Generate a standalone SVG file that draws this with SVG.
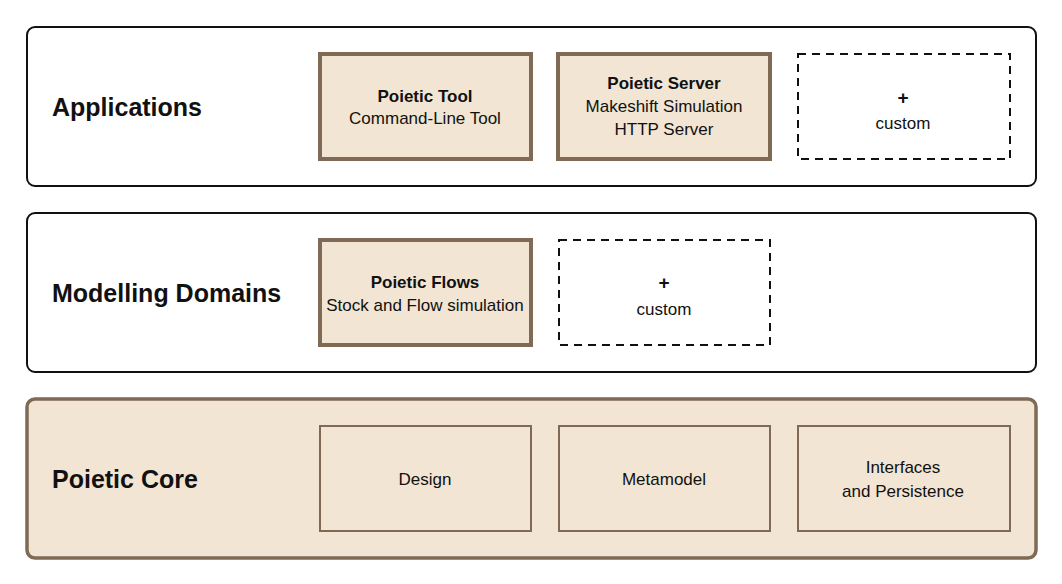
<svg xmlns="http://www.w3.org/2000/svg" width="1062" height="584" viewBox="0 0 1062 584">
<style>
text{font-family:"Liberation Sans",Arial,sans-serif;fill:#111;text-anchor:middle}
.h{font-size:25px;font-weight:bold;text-anchor:start}
.t{font-size:17px}
.b{font-weight:bold}
.p{font-size:19px;font-weight:bold}
.layer{fill:#fff;stroke:#111;stroke-width:2}
.core{fill:#f2e5d3;stroke:#7f6a55;stroke-width:3.5}
.node{fill:#f2e5d3;stroke:#7f6a55;stroke-width:4}
.sub{fill:#f2e5d3;stroke:#7f6a55;stroke-width:2}
.dash{fill:#fff;stroke:#111;stroke-width:2;stroke-dasharray:8 6}
</style>
<rect width="1062" height="584" fill="#fff"/>
<g id="applications">
<rect class="layer" x="27" y="27" width="1009" height="159" rx="8"/>
<text class="h" x="52" y="116">Applications</text>
</g>
<g id="poietic-tool">
<rect class="node" x="320" y="54" width="211" height="105"/>
<text class="t b" x="425" y="102">Poietic Tool</text>
<text class="t" x="425" y="124">Command-Line Tool</text>
</g>
<g id="poietic-server">
<rect class="node" x="558" y="54" width="212" height="105"/>
<text class="t b" x="664" y="89">Poietic Server</text>
<text class="t" x="664" y="112">Makeshift Simulation</text>
<text class="t" x="664" y="135">HTTP Server</text>
</g>
<g id="app-custom">
<rect class="dash" x="798" y="54" width="212" height="105"/>
<text class="p" x="903" y="104">+</text>
<text class="t" x="903" y="129">custom</text>
</g>
<g id="modelling-domains">
<rect class="layer" x="27" y="213" width="1009" height="159" rx="8"/>
<text class="h" x="52" y="302">Modelling Domains</text>
</g>
<g id="poietic-flows">
<rect class="node" x="320" y="240" width="211" height="105"/>
<text class="t b" x="425" y="288">Poietic Flows</text>
<text class="t" x="425" y="311">Stock and Flow simulation</text>
</g>
<g id="domain-custom">
<rect class="dash" x="559" y="240" width="211" height="105"/>
<text class="p" x="664" y="289">+</text>
<text class="t" x="664" y="315">custom</text>
</g>
<g id="poietic-core">
<rect class="core" x="27" y="399" width="1009" height="159" rx="8"/>
<text class="h" x="52" y="488">Poietic Core</text>
</g>
<g id="design">
<rect class="sub" x="320" y="426" width="211" height="105"/>
<text class="t" x="425" y="485">Design</text>
</g>
<g id="metamodel">
<rect class="sub" x="559" y="426" width="211" height="105"/>
<text class="t" x="664" y="485">Metamodel</text>
</g>
<g id="interfaces">
<rect class="sub" x="798" y="426" width="212" height="105"/>
<text class="t" x="903" y="473">Interfaces</text>
<text class="t" x="903" y="497">and Persistence</text>
</g>
<g id="connectors"/>
</svg>
